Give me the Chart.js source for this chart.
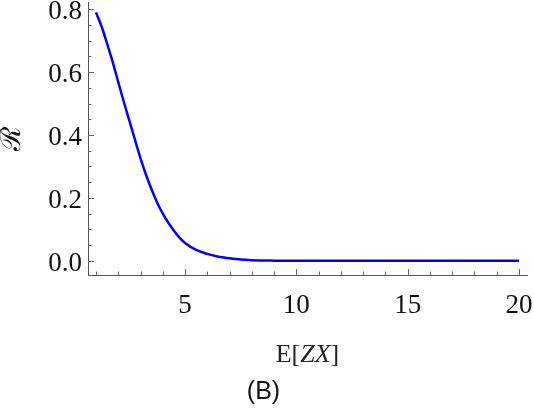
<!DOCTYPE html>
<html>
<head>
<meta charset="utf-8">
<script src="https://cdn.jsdelivr.net/npm/chart.js@4"></script>
<style>
    html, body { margin: 0; padding: 0; background: #fff; }
    #wrap { width: 534px; height: 409px; }
</style>
</head>
<body>
<div id="wrap"><canvas id="chart-r"></canvas></div>
<script>
const energy = [1, 1.25, 1.5, 1.75, 2, 2.25, 2.5, 2.75, 3, 3.25, 3.5, 3.75, 4, 4.25, 4.5, 4.75, 5, 5.5, 6, 6.5, 7, 7.5, 8, 9, 10, 12, 14, 16, 18, 20];
const rValues = [0.79, 0.745, 0.69, 0.632, 0.568, 0.505, 0.445, 0.385, 0.326, 0.273, 0.226, 0.185, 0.15, 0.121, 0.096, 0.074, 0.057, 0.035, 0.022, 0.013, 0.008, 0.004, 0.002, 0.0006, 0.0001, 0, 0, 0, 0, 0];
const xMajor = [5, 10, 15, 20];
const yMajor = [0.0, 0.2, 0.4, 0.6, 0.8];

const serif = "'Liberation Serif', 'DejaVu Serif', serif";

function isMajor(v, list) {
    return list.some(m => Math.abs(m - v) < 1e-6);
}

// Mathematica-style inward ticks, placed with the chart's own scales
const inwardTicks = {
    id: 'inwardTicks',
    afterDraw(chart) {
        const ctx = chart.ctx;
        const area = chart.chartArea;
        const xs = chart.scales.x;
        const ys = chart.scales.y;
        ctx.save();
        ctx.strokeStyle = '#666';
        ctx.lineWidth = 1;
        xs.ticks.forEach(t => {
            const px = Math.round(xs.getPixelForValue(t.value)) + 0.5;
            const len = isMajor(t.value, xMajor) ? 6 : 3.5;
            ctx.beginPath();
            ctx.moveTo(px, area.bottom);
            ctx.lineTo(px, area.bottom - len);
            ctx.stroke();
        });
        ys.ticks.forEach(t => {
            const py = Math.round(ys.getPixelForValue(t.value)) + 0.5;
            const len = isMajor(t.value, yMajor) ? 6 : 3.5;
            ctx.beginPath();
            ctx.moveTo(area.left, py);
            ctx.lineTo(area.left + len, py);
            ctx.stroke();
        });

        // x axis title E[ZX], roman E and brackets, italic Z X
        const parts = [['E[', 'normal'], ['ZX', 'italic'], [']', 'normal']];
        let total = 0;
        parts.forEach(p => {
            ctx.font = p[1] + ' 26px ' + serif;
            total += ctx.measureText(p[0]).width;
        });
        let x = (area.left + area.right) / 2 - total / 2;
        ctx.fillStyle = '#222';
        ctx.textBaseline = 'middle';
        ctx.textAlign = 'left';
        parts.forEach(p => {
            ctx.font = p[1] + ' 26px ' + serif;
            ctx.fillText(p[0], x, 355);
            x += ctx.measureText(p[0]).width;
        });
        ctx.restore();
    }
};

new Chart(document.getElementById('chart-r'), {
    type: 'line',
    data: {
        datasets: [{
            data: energy.map((e, i) => ({ x: e, y: rValues[i] })),
            borderColor: '#0000ff',
            borderWidth: 2.5,
            pointRadius: 0,
            cubicInterpolationMode: 'monotone',
            fill: false
        }]
    },
    options: {
        responsive: true,
        maintainAspectRatio: false,
        animation: false,
        layout: { padding: { top: 2, right: 7, left: 0, bottom: 0 } },
        plugins: {
            legend: { display: false },
            tooltip: { enabled: false },
            title: {
                display: true,
                text: '(B)',
                position: 'bottom',
                color: '#111',
                font: { family: "'Liberation Sans', Arial, sans-serif", size: 25, weight: 'normal' },
                padding: { top: 0, bottom: 2 }
            }
        },
        scales: {
            x: {
                type: 'linear',
                min: 0.64,
                max: 20.36,
                afterFit: s => {
                    s.height = 102;
                    s.paddingLeft = 0;
                    s.paddingRight = 0;
                },
                grid: { drawOnChartArea: false, drawTicks: false },
                border: { color: '#555', width: 1 },
                ticks: {
                    stepSize: 1,
                    includeBounds: false,
                    autoSkip: false,
                    maxRotation: 0,
                    padding: 15,
                    color: '#111',
                    font: { family: serif, size: 27 },
                    callback: v => isMajor(v, xMajor) ? String(Math.round(v)) : ''
                }
            },
            y: {
                min: -0.045,
                max: 0.823,
                afterFit: s => {
                    s.width = 88;
                    s.paddingTop = 0;
                    s.paddingBottom = 0;
                },
                grid: { drawOnChartArea: false, drawTicks: false },
                border: { color: '#555', width: 1 },
                title: {
                    display: true,
                    text: 'ℛ',
                    color: '#111',
                    font: { family: "'DejaVu Serif', serif", size: 28, lineHeight: 0.9 },
                    padding: { top: 0, bottom: 0 }
                },
                ticks: {
                    stepSize: 0.05,
                    includeBounds: false,
                    autoSkip: false,
                    padding: 6,
                    labelOffset: 3,
                    color: '#111',
                    font: { family: serif, size: 27 },
                    callback: v => isMajor(v, yMajor) ? v.toFixed(1) : ''
                }
            }
        }
    },
    plugins: [inwardTicks]
});
</script>
</body>
</html>
